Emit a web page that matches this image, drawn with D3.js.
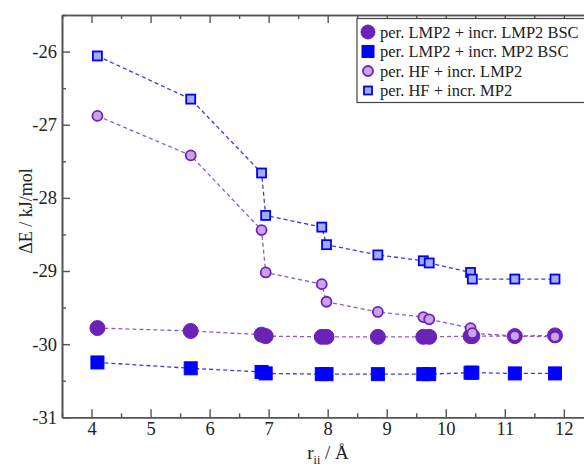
<!DOCTYPE html>
<html>
<head>
<meta charset="utf-8">
<script src="https://cdn.jsdelivr.net/npm/d3@7"></script>
<style>
  body { margin: 0; background: #fff; }
  svg { display: block; font-family: "Liberation Serif", serif; }
</style>
</head>
<body>
<svg id="chart" width="584" height="466"></svg>
<script>
// r_ii values (Å) shared by every series
const rValues = [4.10, 5.68, 6.88, 6.95, 7.90, 7.98, 8.85, 9.62, 9.72, 10.42, 10.45, 11.17, 11.85];

const lmp2LmpBsc = [-29.78, -29.82, -29.87, -29.89, -29.90, -29.90, -29.90, -29.90, -29.90, -29.89, -29.89, -29.89, -29.88];
const lmp2Mp2Bsc = [-30.25, -30.33, -30.38, -30.40, -30.41, -30.41, -30.41, -30.41, -30.41, -30.39, -30.39, -30.40, -30.40];
const hfLmp2 = [-26.88, -27.42, -28.44, -29.02, -29.18, -29.42, -29.56, -29.63, -29.66, -29.78, -29.85, -29.89, -29.90];
const hfMp2 = [-26.06, -26.65, -27.66, -28.24, -28.40, -28.64, -28.78, -28.86, -28.89, -29.02, -29.11, -29.11, -29.11];

const xTicks = [4, 5, 6, 7, 8, 9, 10, 11, 12];
const yTicks = [-31, -30, -29, -28, -27, -26];

const series = [
  { name: "per. LMP2 + incr. LMP2 BSC", values: lmp2LmpBsc, shape: "circle", size: 7.5, fill: "#6a22b8", stroke: "#6a22b8", sw: 1, line: "#8a5cd0" },
  { name: "per. LMP2 + incr. MP2 BSC", values: lmp2Mp2Bsc, shape: "square", size: 13, fill: "#0000ff", stroke: "#0000ff", sw: 1, line: "#3a3ae8" },
  { name: "per. HF + incr. LMP2", values: hfLmp2, shape: "circle", size: 5, fill: "#c9a3e6", stroke: "#6a22b8", sw: 1.8, line: "#8a5cd0" },
  { name: "per. HF + incr. MP2", values: hfMp2, shape: "square", size: 9, fill: "#a6acf2", stroke: "#0000ff", sw: 1.8, line: "#3a3ae8" }
];

const svg = d3.select("#chart");
const mLeft = 62, mTop = 15, mBottom = 417.3;
const serif = "Liberation Serif";

const x = d3.scaleLinear().domain([3.5, 12.5]).range([mLeft, mLeft + 9 * 59.04]);
const y = d3.scaleLinear().domain([-31, -25.5]).range([mBottom, mTop]);

const axisColor = "#555";

// ticks, pointing inward
function drawAxis(axis, transform) {
  const g = svg.append("g").attr("transform", transform).call(axis);
  g.attr("font-family", serif);
  g.selectAll("path.domain").attr("stroke", axisColor).attr("stroke-width", 1.6);
  g.selectAll(".tick line").attr("stroke", axisColor).attr("stroke-width", 1.4);
  g.selectAll("text").attr("font-family", serif).attr("font-size", 18.5).attr("fill", "#222");
  return g;
}

const xMinor = d3.range(3.5, 12.51, 0.5).filter(v => !xTicks.includes(v));
const yMinor = d3.range(-31, -25.49, 0.5).filter(v => !yTicks.includes(v));

// bottom
drawAxis(d3.axisBottom(x).tickValues(xTicks).tickSize(-8).tickPadding(5).tickSizeOuter(0), `translate(0,${mBottom})`);
drawAxis(d3.axisBottom(x).tickValues(xMinor).tickSize(-4).tickFormat("").tickSizeOuter(0), `translate(0,${mBottom})`);
// top
drawAxis(d3.axisTop(x).tickValues(xTicks).tickSize(-8).tickFormat("").tickSizeOuter(0), `translate(0,${mTop})`);
drawAxis(d3.axisTop(x).tickValues(xMinor).tickSize(-4).tickFormat("").tickSizeOuter(0), `translate(0,${mTop})`);
// left
drawAxis(d3.axisLeft(y).tickValues(yTicks).tickSize(-8).tickPadding(5).tickFormat(d => d).tickSizeOuter(0), `translate(${mLeft},0)`);
drawAxis(d3.axisLeft(y).tickValues(yMinor).tickSize(-4).tickFormat("").tickSizeOuter(0), `translate(${mLeft},0)`);

// axis titles
svg.append("text")
  .attr("transform", `translate(32,211) rotate(-90)`)
  .attr("text-anchor", "middle")
  .attr("font-family", serif)
  .attr("font-size", 18)
  .attr("fill", "#222")
  .text("ΔE / kJ/mol");

const xt = svg.append("text")
  .attr("x", 328).attr("y", 459)
  .attr("text-anchor", "middle")
  .attr("font-family", serif)
  .attr("font-size", 19)
  .attr("fill", "#222");
xt.append("tspan").text("r");
xt.append("tspan").attr("font-size", 12).attr("dy", 5).text("ii");
xt.append("tspan").attr("dy", -5).text(" / Å");

// series
const plot = svg.append("g");
const line = d3.line().x(d => x(d[0])).y(d => y(d[1]));

function marker(g, s, cx, cy) {
  if (s.shape === "circle") {
    g.append("circle").attr("cx", cx).attr("cy", cy).attr("r", s.size)
      .attr("fill", s.fill).attr("stroke", s.stroke).attr("stroke-width", s.sw);
  } else {
    g.append("rect").attr("x", cx - s.size / 2).attr("y", cy - s.size / 2)
      .attr("width", s.size).attr("height", s.size)
      .attr("fill", s.fill).attr("stroke", s.stroke).attr("stroke-width", s.sw);
  }
}

series.forEach(s => {
  const pts = rValues.map((r, i) => [r, s.values[i]]);
  plot.append("path").datum(pts)
    .attr("d", line)
    .attr("fill", "none")
    .attr("stroke", s.line)
    .attr("stroke-width", 1.3)
    .attr("stroke-dasharray", "4,3");
  const mg = plot.append("g");
  pts.forEach(p => marker(mg, s, x(p[0]), y(p[1])));
});

// legend
const lg = svg.append("g");
lg.append("rect").attr("x", 357).attr("y", 18.5).attr("width", 240).attr("height", 84)
  .attr("fill", "#fff").attr("stroke", "#444").attr("stroke-width", 1.2);
series.forEach((s, i) => {
  const cy = 32 + i * 19.5;
  const ls = Object.assign({}, s, { size: s.shape === "circle" ? (i === 0 ? 7 : 5) : (i === 1 ? 12 : 8) });
  marker(lg, ls, 368, cy);
  lg.append("text").attr("x", 380).attr("y", cy + 5.5)
    .attr("font-family", serif)
    .attr("font-size", 16.5).attr("fill", "#222").text(s.name);
});
</script>
</body>
</html>
